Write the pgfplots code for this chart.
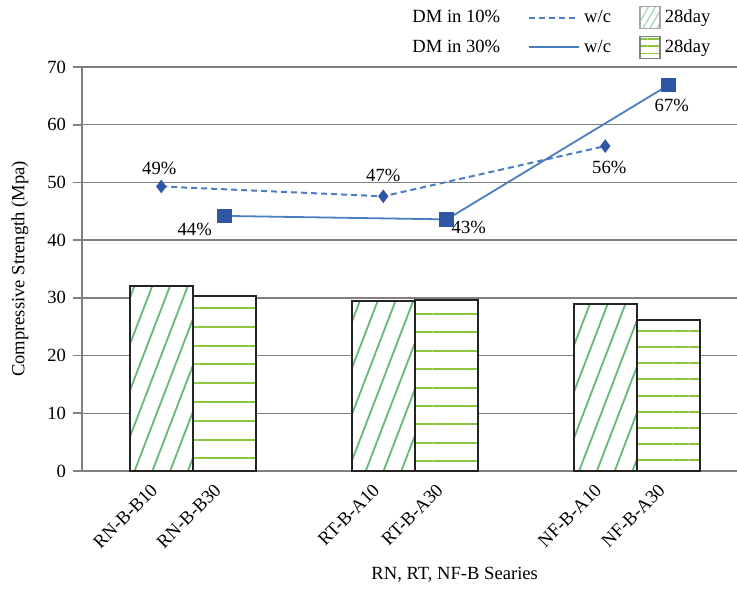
\documentclass[border=0pt]{standalone}
\usepackage{fontspec}
\setmainfont{Liberation Serif}
\usepackage{pgfplots}
\pgfplotsset{compat=1.18}
\usetikzlibrary{patterns.meta}
\definecolor{diaggreen}{RGB}{100,185,120}
\definecolor{horgreen}{RGB}{140,198,63}
\definecolor{lineblue}{RGB}{74,126,190}
\definecolor{markblue}{RGB}{47,85,165}
\definecolor{gridgray}{RGB}{128,128,128}
\definecolor{barline}{RGB}{35,35,35}
\pgfplotsset{
  lineleg/.style={legend image code/.code={\draw[##1] (0pt,0pt) -- (25pt,0pt);}},
  boxleg/.style={legend image code/.code={\draw[##1] (-4pt,-5.5pt) rectangle (6pt,5.5pt);}},
}

\begin{document}
\begin{tikzpicture}[font=\fontsize{9.3}{11}\selectfont]
\begin{axis}[
  scale only axis, width=327.5pt, height=202pt,
  xmin=0.5, xmax=3.4505, ymin=0, ymax=70,
  axis lines*=left,
  axis line style={gridgray, line width=1pt},
  ytick={0,10,...,70},
  ymajorgrids, grid style={gridgray, line width=0.7pt},
  tick align=outside, major tick length=4.5pt,
  ytick style={gridgray, line width=0.8pt},
  xtick={0.857,1.143,1.857,2.143,2.857,3.143},
  xticklabels={RN-B-B10,RN-B-B30,RT-B-A10,RT-B-A30,NF-B-A10,NF-B-A30},
  xtick style={draw=none},
  xticklabel style={rotate=45, anchor=east, xshift=-1.5pt, yshift=0pt},
  /pgf/number format/assume math mode=true,
  ylabel={Compressive Strength (Mpa)},
  ylabel style={at={(axis description cs:-0.0947,0.5)}, anchor=center},
  xlabel={RN, RT, NF-B Searies},
  xlabel style={at={(axis description cs:0.569,-0.257)}, anchor=center},
  legend columns=3,
  legend style={at={(axis description cs:0.966,1.153)}, anchor=north east,
    draw=none, fill=none, inner sep=0pt, row sep=3pt,
    /tikz/every even column/.append style={column sep=12pt},
    cells={anchor=west}},
  barstyle/.style={ybar, bar width=0.286, bar shift=0pt, draw=barline, line width=1pt, fill=white, forget plot},
]
% 10% bars (diagonal hatch)
\addplot[barstyle, postaction={pattern={Lines[angle=69,distance=8.3pt,line width=0.9pt]}, pattern color=diaggreen}]
  coordinates {(0.857,32.1)};
\addplot[barstyle, postaction={pattern={Lines[angle=69,distance=8.3pt,line width=0.9pt]}, pattern color=diaggreen}]
  coordinates {(1.857,29.5)};
\addplot[barstyle, postaction={pattern={Lines[angle=69,distance=8.3pt,line width=0.9pt]}, pattern color=diaggreen}]
  coordinates {(2.857,28.9)};
% 30% bars (horizontal lines)
\addplot[barstyle, postaction={pattern={Lines[angle=0,distance=9.4pt,line width=1pt]}, pattern color=horgreen}]
  coordinates {(1.143,30.4)};
\addplot[barstyle, postaction={pattern={Lines[angle=0,distance=9.2pt,line width=1pt]}, pattern color=horgreen}]
  coordinates {(2.143,29.7)};
\addplot[barstyle, postaction={pattern={Lines[angle=0,distance=8.1pt,line width=1pt]}, pattern color=horgreen}]
  coordinates {(3.143,26.1)};
% w/c lines
\addplot[forget plot, lineblue, line width=1pt, dash pattern=on 3pt off 2pt,
  mark=diamond*, mark size=2.6pt, mark options={solid, fill=markblue, draw=markblue}]
  coordinates {(0.857,49.3) (1.857,47.6) (2.857,56.3)};
\addplot[forget plot, lineblue, line width=0.9pt,
  mark=square*, mark size=3.2pt, mark options={fill=markblue, draw=markblue}]
  coordinates {(1.143,44.2) (2.143,43.6) (3.143,66.9)};
% labels
\node[inner sep=0pt] at (axis cs:0.857,49.3) [xshift=-1pt, yshift=9pt] {49\%};
\node[inner sep=0pt] at (axis cs:1.143,44.2) [xshift=-15pt, yshift=-7pt] {44\%};
\node[inner sep=0pt] at (axis cs:1.857,47.6) [yshift=10.5pt] {47\%};
\node[inner sep=0pt] at (axis cs:2.143,43.6) [xshift=11pt, yshift=-4pt] {43\%};
\node[inner sep=0pt] at (axis cs:2.857,56.3) [xshift=2pt, yshift=-10.5pt] {56\%};
\node[inner sep=0pt] at (axis cs:3.143,66.9) [xshift=1.5pt, yshift=-10.5pt] {67\%};
% legend
\addlegendimage{empty legend}
\addlegendentry{DM in 10\%}
\addlegendimage{lineleg, lineblue, line width=1pt, dash pattern=on 3pt off 2pt}
\addlegendentry{w/c}
\addlegendimage{boxleg, draw=gray!70, line width=0.8pt, fill=white,
  postaction={pattern={Lines[angle=60,distance=3pt,line width=0.6pt]}, pattern color=diaggreen!60}}
\addlegendentry{28day}
\addlegendimage{empty legend}
\addlegendentry{DM in 30\%}
\addlegendimage{lineleg, lineblue, line width=1pt}
\addlegendentry{w/c}
\addlegendimage{boxleg, draw=gray, line width=0.9pt, fill=white,
  postaction={pattern={Lines[angle=0,distance=3.7pt,yshift=1.8pt,line width=0.9pt]}, pattern color=horgreen}}
\addlegendentry{28day}
\end{axis}
\pgfresetboundingbox
\path[use as bounding box] (-41pt,-59.5pt) rectangle (327.5pt,235.5pt);
\end{tikzpicture}
\end{document}
